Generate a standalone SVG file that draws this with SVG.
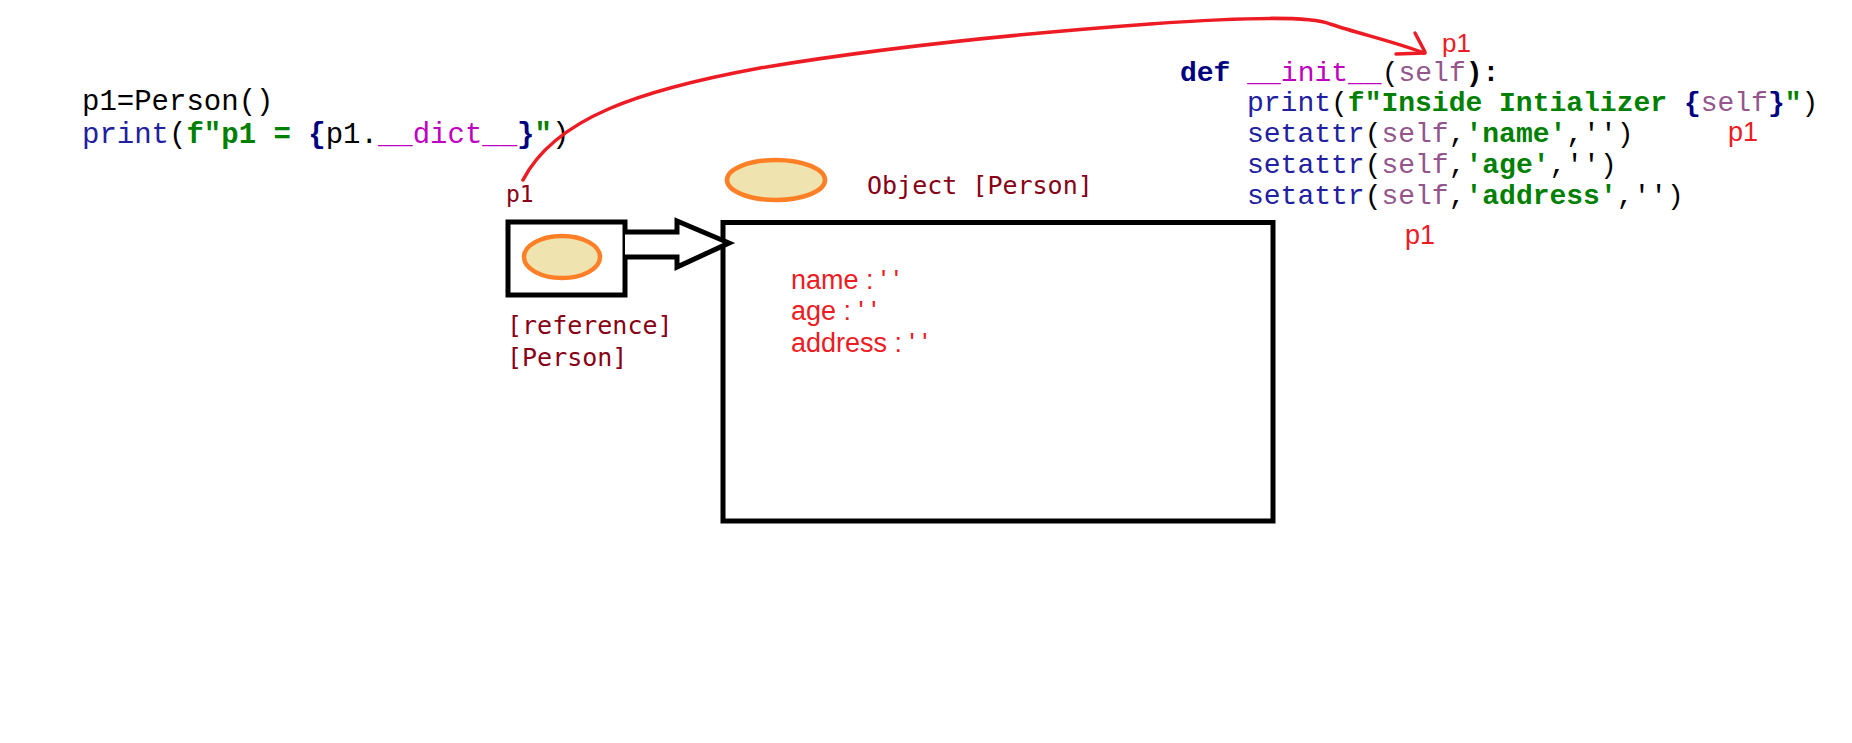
<svg xmlns="http://www.w3.org/2000/svg" width="1852" height="743" viewBox="0 0 1852 743">
<style>
.code{font-family:"Liberation Mono","Courier New",monospace;white-space:pre}
.l{font-size:29px}
.r{font-size:28px}
.k{fill:#000080;font-weight:bold}
.fn{fill:#2020a0}
.m{fill:#c000c0}
.s{fill:#94558d}
.g{fill:#008000;font-weight:bold}
.b{fill:#000080;font-weight:bold}
.p{fill:#000}
.lab{font-family:"DejaVu Sans Mono",monospace;fill:#880015}
.red{font-family:"Liberation Sans",Arial,sans-serif;fill:#ed1c24}
.box{fill:#fff;stroke:#000;stroke-width:5}
.oval{fill:#efe4b0;stroke:#ff7f27;stroke-width:4.5}
.ink{fill:none;stroke:#ed1c24;stroke-width:3.5;stroke-linecap:round;stroke-linejoin:round}
</style>
<rect width="1852" height="743" fill="#fff"/>

<g id="code-left">
<text class="code l" x="82" y="110"><tspan class="p">p1=Person()</tspan></text>
<text class="code l" x="82" y="143"><tspan class="fn">print</tspan><tspan class="p">(</tspan><tspan class="g">f"p1 = </tspan><tspan class="b">{</tspan><tspan class="p">p1.</tspan><tspan class="m">__dict__</tspan><tspan class="b">}</tspan><tspan class="g">"</tspan><tspan class="p">)</tspan></text>
</g>

<g id="code-right">
<text class="code r" x="1180" y="81"><tspan class="k">def</tspan><tspan class="p"> </tspan><tspan class="m">__init__</tspan><tspan class="p">(</tspan><tspan class="s">self</tspan><tspan class="p" font-weight="bold">):</tspan></text>
<text class="code r" x="1247" y="111"><tspan class="fn">print</tspan><tspan class="p">(</tspan><tspan class="g">f"Inside Intializer </tspan><tspan class="b">{</tspan><tspan class="s">self</tspan><tspan class="b">}</tspan><tspan class="g">"</tspan><tspan class="p">)</tspan></text>
<text class="code r" x="1247" y="142"><tspan class="fn">setattr</tspan><tspan class="p">(</tspan><tspan class="s">self</tspan><tspan class="p">,</tspan><tspan class="g">'name'</tspan><tspan class="p">,'')</tspan></text>
<text class="code r" x="1247" y="173"><tspan class="fn">setattr</tspan><tspan class="p">(</tspan><tspan class="s">self</tspan><tspan class="p">,</tspan><tspan class="g">'age'</tspan><tspan class="p">,'')</tspan></text>
<text class="code r" x="1247" y="204"><tspan class="fn">setattr</tspan><tspan class="p">(</tspan><tspan class="s">self</tspan><tspan class="p">,</tspan><tspan class="g">'address'</tspan><tspan class="p">,'')</tspan></text>
</g>

<g id="self-labels">
<text class="red" x="1442" y="52" font-size="26">p1</text>
<text class="red" x="1728" y="141" font-size="27">p1</text>
<text class="red" x="1405" y="244" font-size="27">p1</text>
</g>

<g id="reference-node">
<text class="lab" x="506" y="202" font-size="23">p1</text>
<rect class="box" x="508" y="222" width="117" height="73"/>
<ellipse class="oval" cx="562" cy="257" rx="38" ry="21"/>
<text class="lab" x="507" y="334" font-size="25">[reference]</text>
<text class="lab" x="507" y="366" font-size="25">[Person]</text>
</g>

<g id="object-node">
<ellipse class="oval" cx="776" cy="180" rx="49" ry="20"/>
<text class="lab" x="867" y="194" font-size="25">Object [Person]</text>
<rect class="box" x="723" y="222.5" width="550" height="298.5"/>
<text class="red" x="791" y="289" font-size="27">name : ' '</text>
<text class="red" x="791" y="320" font-size="27">age : ' '</text>
<text class="red" x="791" y="352" font-size="27">address : ' '</text>
</g>

<g id="connectors">
<polyline points="625,232 677,232 677,221 729,243 677,267 677,257 625,257" fill="#fff" stroke="#000" stroke-width="5" stroke-linejoin="miter"/>
<path class="ink" d="M523,180 C555,118 640,90 760,68 C880,48 1000,35 1150,24 C1250,17 1310,16 1330,24 C1360,34 1395,42 1424,53"/>
<path class="ink" d="M1396,54 L1425,53 M1415,33 L1425,52" stroke-width="4"/>
</g>
</svg>
